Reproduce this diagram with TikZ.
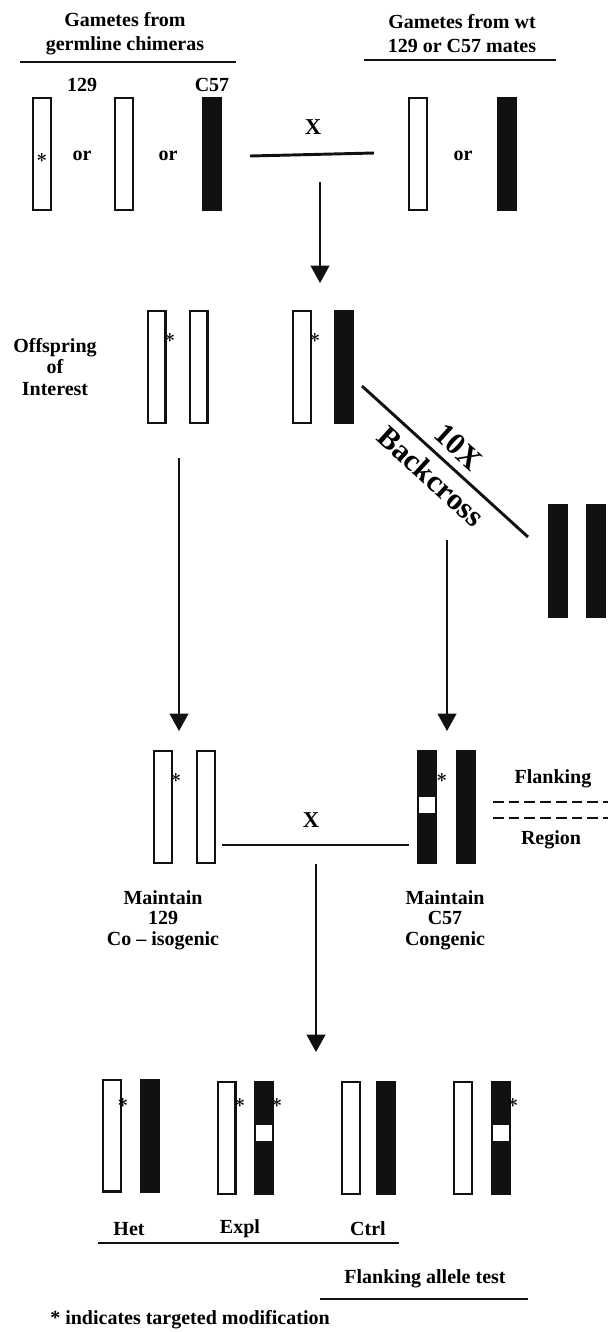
\documentclass[tikz,border=0pt]{standalone}
\usepackage{fontspec}
\setmainfont{Liberation Serif}
\usetikzlibrary{arrows.meta}
\definecolor{chr}{RGB}{17,17,17}
\begin{document}
\begin{tikzpicture}[x=0.75pt,y=-0.75pt,
  chropen/.style={draw=chr,line width=1.6pt,fill=white,minimum width=13.4pt,minimum height=83.9pt,inner sep=0pt},
  chrfull/.style={fill=chr,minimum width=15pt,minimum height=85.5pt,inner sep=0pt},
  chrgap/.style={fill=white,minimum width=12pt,minimum height=12pt,inner sep=0pt},
  lbl/.style={font=\bfseries\fontsize{15}{15}\selectfont,inner sep=0pt,align=center},
  lblml/.style={font=\bfseries\fontsize{15}{15.2}\selectfont,inner sep=0pt,align=center},
  lbloff/.style={font=\bfseries\fontsize{15}{16}\selectfont,inner sep=0pt,align=center},
  lbltop/.style={font=\bfseries\fontsize{15}{18}\selectfont,inner sep=0pt,align=center},
  bigx/.style={font=\bfseries\fontsize{17}{17}\selectfont,inner sep=0pt},
  bclbl/.style={font=\bfseries\fontsize{23}{23}\selectfont,inner sep=6pt,sloped},
  starmark/.style={font=\boldmath\fontsize{14}{14}\selectfont,inner sep=0pt},
  bar/.style={line width=2.2pt,draw=chr},
  dashbar/.style={line width=1.7pt,draw=chr,dash pattern=on 8pt off 3.8pt},
  arr/.style={line width=1.5pt,draw=chr,-{Triangle[length=13pt,width=14pt]}},
]
\useasboundingbox (0,0) rectangle (608,1332);

% ---------- top: gametes ----------
\node[lbltop] (tl) at (125,34) {Gametes from\\germline chimeras};
\node[lbltop] (tr) at (462,34) {Gametes from wt\\129 or C57 mates};
\coordinate (tl1) at (20,62); \coordinate (tl2) at (236,62);
\coordinate (tr1) at (364,60); \coordinate (tr2) at (556,60);
\draw[bar] (tl1) -- (tl2);
\draw[bar] (tr1) -- (tr2);

\node[lbl] (l129) at (82,85) {129};
\node[lbl] (lc57) at (212,85) {C57};

\node[chropen] (ga) at (42,154) {};
\node[starmark] (sa) at (42,158) {$\ast$};
\node[lbl] (or1) at (82,156) {or};
\node[chropen] (gb) at (124,154) {};
\node[lbl] (or2) at (168,156) {or};
\node[chrfull] (gc) at (212,154) {};

\node[bigx] (x1) at (313,127) {X};
\coordinate (c1a) at (250,156); \coordinate (c1b) at (374,153);
\draw[bar] (c1a) -- (c1b);

\node[chropen] (gd) at (418,154) {};
\node[lbl] (or3) at (463,156) {or};
\node[chrfull] (ge) at (507,154) {};

\coordinate (a1s) at (320,182); \coordinate (a1e) at (320,283);
\draw[arr] (a1s) -- (a1e);

% ---------- offspring ----------
\node[lbloff] (off) at (55,367) {Offspring\\of\\Interest};
\node[chropen] (of1) at (156.5,367) {};
\node[starmark] (sf) at (170,338) {$\ast$};
\node[chropen] (of2) at (198.5,367) {};
\node[chropen] (of3) at (302,367) {};
\node[starmark] (sh) at (315,338) {$\ast$};
\node[chrfull] (of4) at (343.5,367) {};

\coordinate (bc1) at (362,386); \coordinate (bc2) at (528,537);
\draw[bar] (bc1) -- node[bclbl,above] (tenx) {10X} node[bclbl,below] (bcx) {Backcross} (bc2);

\node[chrfull] (bb1) at (558,561) {};
\node[chrfull] (bb2) at (596,561) {};

\coordinate (a2s) at (179,458); \coordinate (a2e) at (179,731);
\draw[arr] (a2s) -- (a2e);
\coordinate (a3s) at (447,540); \coordinate (a3e) at (447,731);
\draw[arr] (a3s) -- (a3e);

% ---------- maintain ----------
\node[chropen] (mj) at (163,807) {};
\node[starmark] (sj) at (176,778) {$\ast$};
\node[chropen] (mk) at (206,807) {};
\node[chrfull] (ml) at (427,807) {};
\node[chrgap] (mlg) at (427,805) {};
\node[starmark] (sl) at (442,778) {$\ast$};
\node[chrfull] (mm) at (465.5,807) {};

\node[bigx] (x2) at (311,820) {X};
\coordinate (c2a) at (222,845); \coordinate (c2b) at (409,845);
\draw[bar] (c2a) -- (c2b);

\node[lbl] (flk) at (553,779) {Flanking};
\coordinate (d1a) at (493,802); \coordinate (d1b) at (608,802);
\coordinate (d2a) at (493,818); \coordinate (d2b) at (608,818);
\draw[dashbar] (d1a) -- (d1b);
\draw[dashbar] (d2a) -- (d2b);
\node[lbl] (reg) at (551,840) {Region};

\node[lblml] (m129) at (163,920) {Maintain\\129\\Co -- isogenic};
\node[lblml] (mc57) at (445,920) {Maintain\\C57\\Congenic};

\coordinate (a4s) at (316,864); \coordinate (a4e) at (316,1052);
\draw[arr] (a4s) -- (a4e);

% ---------- bottom ----------
\node[chropen] (h1) at (112,1135.5) {};
\node[starmark] (sh1) at (123,1103) {$\ast$};
\node[chrfull] (h2) at (149.5,1135.5) {};

\node[chropen] (e1) at (226.5,1138) {};
\node[starmark] (se1) at (240,1103) {$\ast$};
\node[chrfull] (e2) at (263.5,1138) {};
\node[chrgap] (e2g) at (263.5,1133) {};
\node[starmark] (se2) at (277,1103) {$\ast$};

\node[chropen] (k1) at (351,1138) {};
\node[chrfull] (k2) at (385.5,1138) {};

\node[chropen] (f1) at (463,1138) {};
\node[chrfull] (f2) at (500.5,1138) {};
\node[chrgap] (f2g) at (500.5,1133) {};
\node[starmark] (sf2) at (513,1103) {$\ast$};

\node[lbl] (het) at (129,1229) {Het};
\node[lbl] (expl) at (240,1229) {Expl};
\node[lbl] (ctrl) at (368,1229) {Ctrl};
\coordinate (b1a) at (98,1243); \coordinate (b1b) at (399,1243);
\draw[bar] (b1a) -- (b1b);

\node[lbl] (fat) at (425,1279) {Flanking allele test};
\coordinate (b2a) at (320,1299); \coordinate (b2b) at (528,1299);
\draw[bar] (b2a) -- (b2b);

\node[lbl,anchor=west] (note) at (50,1320) {* indicates targeted modification};
\end{tikzpicture}
\end{document}
